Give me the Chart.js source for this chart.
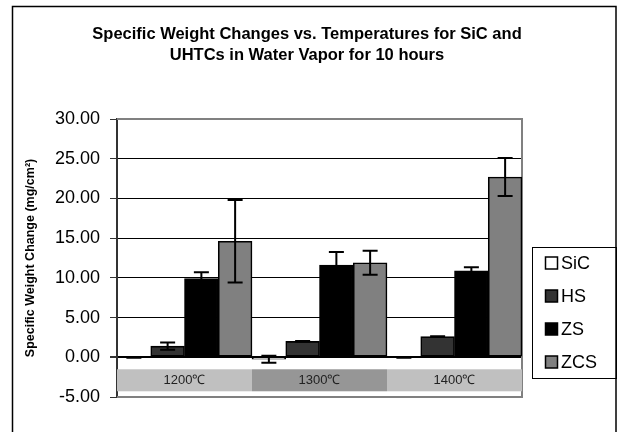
<!DOCTYPE html>
<html>
<head>
<meta charset="utf-8">
<script src="https://cdn.jsdelivr.net/npm/chart.js@4/dist/chart.umd.min.js"></script>
<style>
  html, body { margin: 0; padding: 0; background: #fff; }
</style>
</head>
<body>
<canvas id="grafico" width="619" height="432"></canvas>
<script>
const categorias = ['1200℃', '1300℃', '1400℃'];
const series = ['SiC', 'HS', 'ZS', 'ZCS'];
const valSiC = [0.0, -0.25, 0.0];
const valHS = [1.4, 2.0, 2.6];
const valZS = [9.9, 11.6, 10.9];
const valZCS = [14.6, 11.9, 22.7];
const errSiC = [0.05, 0.45, 0.05];
const errHS = [0.45, 0.05, 0.05];
const errZS = [0.8, 1.65, 0.45];
const errZCS = [5.2, 1.5, 2.4];
const ticksY = [-5, 0, 5, 10, 15, 20, 25, 30];
const titulo = ['Specific Weight Changes vs. Temperatures for SiC and', 'UHTCs in Water Vapor for 10 hours'];

const colores = ['#ffffff', '#333333', '#000000', '#808080'];
const bandas = ['#c0c0c0', '#969696', '#c0c0c0'];
const fuente = '"Liberation Sans", Arial, sans-serif';

const valores = [valSiC, valHS, valZS, valZCS];
const errores = [errSiC, errHS, errZS, errZCS];

// marco exterior y titulo
const marco = {
  id: 'marco',
  beforeDraw(chart) {
    const c = chart.ctx;
    c.save();
    c.fillStyle = '#fff';
    c.fillRect(0, 0, chart.width, chart.height);
    c.strokeStyle = '#000';
    c.lineWidth = 1.5;
    c.strokeRect(12.5, 6.5, 603.5, 460);
    c.fillStyle = '#000';
    c.font = 'bold 16.5px ' + fuente;
    c.textAlign = 'center';
    c.textBaseline = 'alphabetic';
    titulo.forEach((t, i) => c.fillText(t, 307, 39 + i * 21));
    c.restore();
  }
};

// borde gris del area y bandas de categorias
const areaPlot = {
  id: 'areaPlot',
  beforeDatasetsDraw(chart) {
    const c = chart.ctx;
    const a = chart.chartArea;
    const y = chart.scales.y;
    const x = chart.scales.x;
    const cero = y.getPixelForValue(0);
    c.save();
    c.strokeStyle = '#808080';
    c.lineWidth = 2;
    c.beginPath();
    c.moveTo(a.left, a.top);
    c.lineTo(a.right, a.top);
    c.lineTo(a.right, a.bottom);
    c.lineTo(a.left, a.bottom);
    c.stroke();

    const ancho = (a.right - a.left) / categorias.length;
    categorias.forEach((cat, i) => {
      const cx = x.getPixelForValue(i);
      c.fillStyle = bandas[i];
      c.fillRect(cx - ancho / 2, cero + 12, ancho, 22);
      c.fillStyle = '#222';
      c.font = '13px ' + fuente;
      c.textAlign = 'center';
      c.textBaseline = 'middle';
      c.fillText(cat, cx, cero + 23);
    });
    c.restore();
  },
  afterDatasetsDraw(chart) {
    // barras de error
    const c = chart.ctx;
    const y = chart.scales.y;
    c.save();
    c.strokeStyle = '#000';
    c.lineWidth = 2;
    chart.data.datasets.forEach((ds, d) => {
      const meta = chart.getDatasetMeta(d);
      meta.data.forEach((el, i) => {
        const v = valores[d][i];
        const e = errores[d][i];
        const y1 = y.getPixelForValue(v + e);
        const y2 = y.getPixelForValue(v - e);
        c.beginPath();
        c.moveTo(el.x, y1);
        c.lineTo(el.x, y2);
        c.moveTo(el.x - 7.5, y1);
        c.lineTo(el.x + 7.5, y1);
        c.moveTo(el.x - 7.5, y2);
        c.lineTo(el.x + 7.5, y2);
        c.stroke();
      });
    });
    c.restore();
  }
};

// leyenda con recuadro
const leyenda = {
  id: 'leyenda',
  afterDraw(chart) {
    const c = chart.ctx;
    c.save();
    c.strokeStyle = '#000';
    c.lineWidth = 1;
    c.strokeRect(532.5, 247.5, 84, 131);
    series.forEach((s, i) => {
      const cy = 263 + i * 33;
      c.fillStyle = colores[i];
      c.fillRect(545.5, cy - 6, 12, 12);
      c.lineWidth = 1.5;
      c.strokeRect(545.5, cy - 6, 12, 12);
      c.fillStyle = '#000';
      c.font = '18px ' + fuente;
      c.textAlign = 'left';
      c.textBaseline = 'middle';
      c.fillText(s, 561, cy + 1);
    });
    c.restore();
  }
};

const ctx = document.getElementById('grafico').getContext('2d');

new Chart(ctx, {
  type: 'bar',
  data: {
    labels: categorias,
    datasets: series.map((s, i) => ({
      label: s,
      data: valores[i],
      backgroundColor: colores[i],
      borderColor: '#000',
      borderWidth: 1.6,
      borderSkipped: false,
      categoryPercentage: 1,
      barPercentage: 1
    }))
  },
  options: {
    responsive: false,
    animation: false,
    layout: { padding: { left: 0, right: 97, top: 119, bottom: 35 } },
    plugins: {
      legend: { display: false },
      tooltip: { enabled: false },
      title: { display: false }
    },
    scales: {
      x: { display: false },
      y: {
        min: -5,
        max: 30,
        afterBuildTicks: s => { s.ticks = ticksY.map(v => ({ value: v })); },
        afterFit: s => { s.width = 117; },
        ticks: {
          callback: v => Number(v).toFixed(2),
          color: '#000',
          font: { family: fuente, size: 18 },
          padding: 10
        },
        grid: {
          color: c => {
            const v = c.tick ? c.tick.value : null;
            if (v === 30 || v === -5) return 'rgba(0,0,0,0)';
            return '#000';
          },
          lineWidth: c => (c.tick && c.tick.value === 0 ? 2 : 1),
          tickLength: 7,
          tickColor: '#333'
        },
        border: { color: '#333', width: 2 },
        title: {
          display: true,
          text: 'Specific Weight Change (mg/cm²)',
          color: '#000',
          font: { family: fuente, size: 12.5, weight: 'bold' },
          padding: { top: 23, bottom: 0 }
        }
      }
    }
  },
  plugins: [marco, areaPlot, leyenda]
});
</script>
</body>
</html>
